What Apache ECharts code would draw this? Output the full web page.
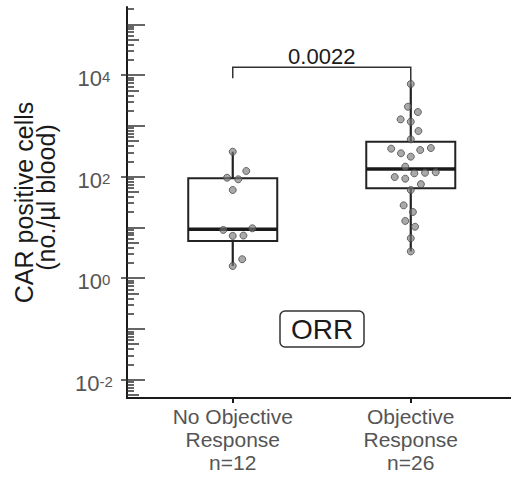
<!DOCTYPE html>
<html>
<head>
<meta charset="utf-8">
<title>CAR positive cells by ORR</title>
<script src="https://cdn.jsdelivr.net/npm/echarts@6.0.0/dist/echarts.min.js"></script>
<style>
html,body{margin:0;padding:0;background:#fff;}
#chart{width:511px;height:478px;}
</style>
</head>
<body>
<div id="chart"></div>
<script>
var categories=['No Objective\nResponse\nn=12','Objective\nResponse\nn=26'];
// [min, Q1, median, Q3, max] per group, cells/µl
var boxStats=[
    [1.74,5.4,9.2,92.5,309],
    [3.36,59,141,486,6650]
];
// single patients, value and horizontal jitter (in group widths)
var noRespValues=[309,129,95,88.5,54.5,8.9,9.6,6.8,6.9,2.36,1.74];
var noRespJitter=[0,0.076,-0.032,0.031,0,-0.053,0.11,0,0.06,0.053,0];
var respValues=[6650,2380,1870,1340,1205,790,542,355,288,247,334,366,157,98,91,116,119,122,71,54.5,27.2,20.1,13.4,10.3,6.1,3.36];
var respJitter=[0,-0.016,0.04,-0.057,0,0.043,0,-0.11,-0.055,0,0.053,0.113,-0.031,-0.09,-0.031,0.02,0.08,0.14,0.057,0,-0.04,0.012,-0.031,0.024,0,0];
var pValue='0.0022';
var bracket=[8600,14200,6650]; // left foot, bar, right foot
var labelExps=[-2,0,2,4];

var FONT='"Liberation Sans", Arial, Helvetica, sans-serif';
var Y_MIN=-2.36,Y_MAX=5.34;
var BOX_HALF=0.25;

// log ticks
var decades=[],fives=[],minors=[];
for(var n=-3;n<=5;n++){
    if(n>=Y_MIN&&n<=Y_MAX) decades.push(n);
    for(var k=2;k<=9;k++){
        var t=n+Math.log10(k);
        if(t<Y_MIN||t>Y_MAX) continue;
        if(k===5) fives.push(t); else minors.push(t);
    }
}

function lg(v){return Math.log10(v);}

function points(values,jitter,pos){
    return values.map(function(v,i){return [pos+jitter[i],lg(v)];});
}

function renderBox(params,api){
    var x=api.value(0);
    var lo=api.coord([x,api.value(1)]),
        q1=api.coord([x,api.value(2)]),
        md=api.coord([x,api.value(3)]),
        q3=api.coord([x,api.value(4)]),
        hi=api.coord([x,api.value(5)]);
    var half=api.size([BOX_HALF,0])[0];
    var whisker={stroke:'#222',lineWidth:2.2,fill:'none'};
    return {type:'group',children:[
        {type:'line',shape:{x1:hi[0],y1:hi[1],x2:q3[0],y2:q3[1]},style:whisker},
        {type:'line',shape:{x1:q1[0],y1:q1[1],x2:lo[0],y2:lo[1]},style:whisker},
        {type:'rect',shape:{x:q3[0]-half,y:q3[1],width:half*2,height:q1[1]-q3[1]},style:{stroke:'#222',lineWidth:2,fill:'#fff'}},
        {type:'line',shape:{x1:md[0]-half,y1:md[1],x2:md[0]+half,y2:md[1]},style:{stroke:'#1a1a1a',lineWidth:3.5,fill:'none'}}
    ]};
}

function renderBracket(params,api){
    var a=api.coord([api.value(0),api.value(2)]),
        tl=api.coord([api.value(0),api.value(3)]),
        tr=api.coord([api.value(1),api.value(3)]),
        b=api.coord([api.value(1),api.value(4)]);
    return {type:'group',children:[
        {type:'polyline',shape:{points:[a,tl,tr,b]},style:{stroke:'#333',lineWidth:1.5,fill:'none'}},
        {type:'text',x:(tl[0]+tr[0])/2,y:tl[1],style:{text:pValue,fontSize:22,fontFamily:FONT,fill:'#1a1a1a',align:'center',verticalAlign:'bottom'}}
    ]};
}

function tickAxis(values,len){
    return {
        type:'value',min:Y_MIN,max:Y_MAX,position:'left',
        axisLine:{show:false,onZero:false},axisLabel:{show:false},splitLine:{show:false},
        axisTick:{show:true,inside:true,length:len,customValues:values,lineStyle:{color:'#333',width:1.5}}
    };
}

var chart=echarts.init(document.getElementById('chart'),null,{renderer:'svg'});
chart.setOption({
    animation:false,
    title:{
        text:'ORR',left:280,top:311,padding:[4,11],
        borderColor:'#333',borderWidth:1.5,borderRadius:5,
        textStyle:{fontSize:28,fontWeight:'normal',color:'#1a1a1a',fontFamily:FONT}
    },
    grid:{left:127,right:0,top:7,bottom:80,outerBoundsMode:'none'},
    xAxis:{
        type:'value',min:0.406,max:2.563,
        axisLine:{onZero:false,lineStyle:{color:'#1a1a1a',width:2}},
        axisTick:{show:true,length:5,customValues:[1,2],lineStyle:{color:'#1a1a1a',width:2}},
        axisLabel:{
            customValues:[1,2],margin:7,fontSize:21,lineHeight:23,color:'#555',fontFamily:FONT,
            formatter:function(v){return categories[Math.round(v)-1];}
        },
        splitLine:{show:false}
    },
    yAxis:[
        {
            type:'value',min:Y_MIN,max:Y_MAX,position:'left',
            axisLine:{show:true,onZero:false,lineStyle:{color:'#1a1a1a',width:2}},
            axisTick:{show:true,inside:false,length:6,customValues:labelExps,lineStyle:{color:'#333',width:1.5}},
            axisLabel:{
                customValues:labelExps,margin:33,align:'center',
                formatter:function(v){return '{b|10}{s|'+Math.round(v)+'}';},
                rich:{
                    b:{fontSize:22,lineHeight:22,padding:[7,0,0,0],color:'#555',fontFamily:FONT},
                    s:{fontSize:15,lineHeight:15,padding:[5,0,0,0],verticalAlign:'top',color:'#555',fontFamily:FONT}
                }
            },
            splitLine:{show:false},
            name:'{t|CAR positive cells}\n{u|(no./µl blood)}',
            nameLocation:'middle',nameGap:70,
            nameTextStyle:{
                fontSize:25,lineHeight:22,color:'#1a1a1a',fontFamily:FONT,
                rich:{
                    t:{fontSize:25,lineHeight:22,color:'#1a1a1a',fontFamily:FONT},
                    u:{fontSize:25,lineHeight:22,color:'#1a1a1a',fontFamily:FONT,padding:[0,0,0,10]}
                }
            }
        },
        tickAxis(decades,18),
        tickAxis(fives,12),
        tickAxis(minors,7)
    ],
    series:[
        {
            type:'custom',name:'box',renderItem:renderBox,silent:true,z:2,
            encode:{x:0,y:[1,2,3,4,5]},
            data:boxStats.map(function(s,i){return [i+1].concat(s.map(lg));})
        },
        {
            type:'custom',name:'p',renderItem:renderBracket,silent:true,z:2,
            encode:{x:[0,1],y:[2,3,4]},
            data:[[1,2].concat(bracket.map(lg))]
        },
        {
            type:'scatter',name:'No Objective Response',symbolSize:7,z:3,
            itemStyle:{color:'rgba(120,120,120,0.8)',borderColor:'#4a4a4a',borderWidth:1},
            data:points(noRespValues,noRespJitter,1)
        },
        {
            type:'scatter',name:'Objective Response',symbolSize:7,z:3,
            itemStyle:{color:'rgba(120,120,120,0.8)',borderColor:'#4a4a4a',borderWidth:1},
            data:points(respValues,respJitter,2)
        }
    ]
});
</script>
</body>
</html>
